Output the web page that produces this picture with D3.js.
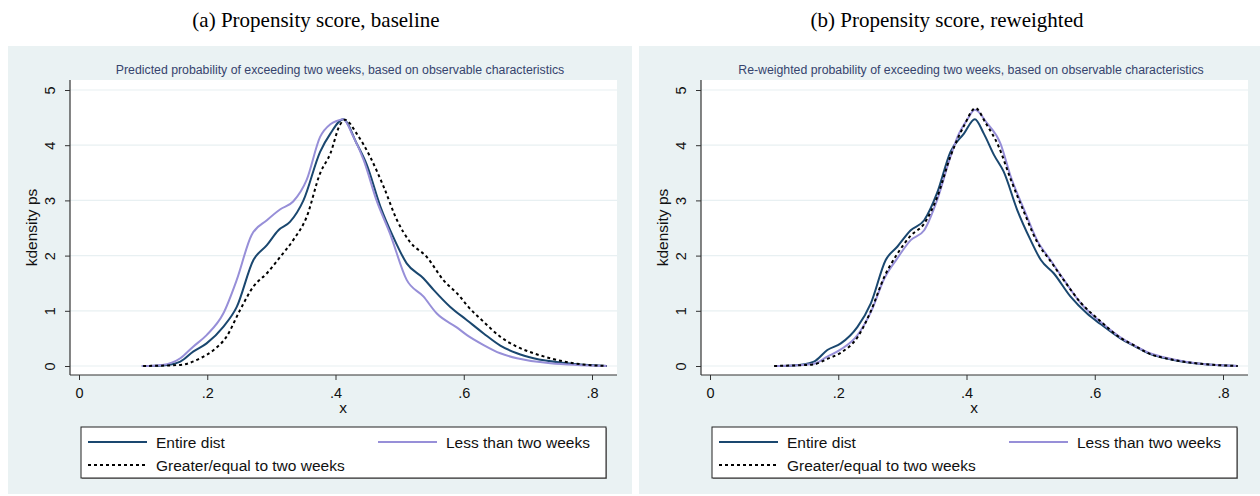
<!DOCTYPE html>
<html>
<head>
<meta charset="utf-8">
<script src="https://cdn.jsdelivr.net/npm/d3@7"></script>
<style>
  body { margin: 0; background: #fff; }
  svg text { font-family: "Liberation Sans", Arial, sans-serif; }
</style>
</head>
<body>
<svg id="chart" width="1260" height="496"></svg>
<script>
// axis ticks
const xTicks = [0, 0.2, 0.4, 0.6, 0.8];
const xTickLabels = ["0", ".2", ".4", ".6", ".8"];
const yTicks = [0, 1, 2, 3, 4, 5];

const seriesNames = ["Entire dist", "Less than two weeks", "Greater/equal to two weeks"];
const panelTitles = ["(a) Propensity score, baseline", "(b) Propensity score, reweighted"];
const panelSubtitles = [
  "Predicted probability of exceeding two weeks, based on observable characteristics",
  "Re-weighted probability of exceeding two weeks, based on observable characteristics"
];

// (a) baseline densities, [x, density]
const baseEntire = [[0.098,0],[0.13,0.01],[0.158,0.08],[0.178,0.26],[0.199,0.41],[0.225,0.71],[0.246,1.07],[0.272,1.92],[0.293,2.19],[0.311,2.46],[0.329,2.61],[0.350,3.00],[0.376,3.88],[0.392,4.21],[0.412,4.47],[0.433,4.03],[0.449,3.64],[0.470,2.89],[0.490,2.34],[0.511,1.86],[0.537,1.59],[0.553,1.38],[0.579,1.07],[0.605,0.83],[0.631,0.59],[0.657,0.37],[0.683,0.23],[0.709,0.14],[0.761,0.05],[0.823,0]];
const baseLess = [[0.098,0],[0.13,0.02],[0.158,0.14],[0.178,0.35],[0.199,0.56],[0.225,0.95],[0.246,1.56],[0.269,2.37],[0.293,2.64],[0.314,2.84],[0.334,2.98],[0.355,3.37],[0.376,4.15],[0.392,4.38],[0.402,4.44],[0.412,4.47],[0.428,4.15],[0.444,3.73],[0.464,3.00],[0.485,2.40],[0.511,1.56],[0.537,1.26],[0.558,0.95],[0.589,0.70],[0.605,0.56],[0.631,0.38],[0.657,0.23],[0.683,0.14],[0.735,0.05],[0.823,0]];
const baseGreater = [[0.10,0],[0.158,0.02],[0.189,0.14],[0.210,0.29],[0.230,0.53],[0.251,1.01],[0.272,1.44],[0.293,1.68],[0.314,1.98],[0.334,2.28],[0.355,2.70],[0.376,3.49],[0.392,3.85],[0.407,4.37],[0.415,4.46],[0.433,4.21],[0.454,3.79],[0.475,3.25],[0.496,2.64],[0.516,2.25],[0.542,1.98],[0.568,1.56],[0.594,1.26],[0.605,1.10],[0.631,0.80],[0.657,0.53],[0.683,0.35],[0.709,0.23],[0.735,0.14],[0.771,0.05],[0.823,0]];

// (b) reweighted densities
const rwEntire = [[0.100,0],[0.13,0.01],[0.162,0.08],[0.183,0.29],[0.204,0.41],[0.230,0.71],[0.251,1.14],[0.274,1.92],[0.292,2.16],[0.313,2.46],[0.334,2.64],[0.354,3.13],[0.375,3.88],[0.396,4.21],[0.413,4.47],[0.427,4.21],[0.443,3.82],[0.458,3.52],[0.479,2.83],[0.500,2.28],[0.516,1.92],[0.536,1.68],[0.562,1.26],[0.588,0.95],[0.609,0.76],[0.640,0.50],[0.662,0.36],[0.682,0.24],[0.723,0.11],[0.765,0.04],[0.823,0]];
const rwLess = [[0.100,0],[0.13,0.01],[0.162,0.04],[0.183,0.17],[0.204,0.30],[0.230,0.56],[0.251,0.98],[0.272,1.59],[0.292,1.95],[0.313,2.28],[0.334,2.46],[0.354,3.00],[0.375,3.79],[0.386,4.15],[0.401,4.46],[0.413,4.64],[0.432,4.40],[0.453,4.03],[0.469,3.43],[0.490,2.83],[0.510,2.28],[0.531,1.92],[0.552,1.56],[0.578,1.14],[0.609,0.80],[0.640,0.52],[0.662,0.37],[0.682,0.25],[0.723,0.12],[0.765,0.04],[0.823,0]];
const rwGreater = [[0.100,0],[0.13,0.01],[0.162,0.03],[0.183,0.13],[0.204,0.24],[0.230,0.52],[0.251,1.00],[0.272,1.62],[0.292,2.03],[0.313,2.36],[0.334,2.58],[0.354,3.05],[0.375,3.80],[0.396,4.35],[0.414,4.67],[0.430,4.40],[0.450,3.98],[0.469,3.38],[0.490,2.78],[0.510,2.25],[0.531,1.90],[0.552,1.55],[0.578,1.15],[0.609,0.81],[0.640,0.51],[0.662,0.37],[0.682,0.24],[0.723,0.11],[0.765,0.04],[0.823,0]];

const styles = [
  { color: "#1a476f", dash: null },
  { color: "#978fd8", dash: null },
  { color: "#000", dash: "3,3" }
];

const svg = d3.select("#chart");

function drawPanel(offset, title, subtitle, series) {
  const g = svg.append("g").attr("transform", `translate(${offset},0)`);

  // panel background and title above it
  g.append("rect").attr("x", 8).attr("y", 46).attr("width", 624).attr("height", 448)
    .attr("fill", "#eaf2f3");
  g.append("text").attr("x", 316).attr("y", 27).attr("text-anchor", "middle")
    .style("font-family", '"Liberation Serif", "Times New Roman", serif')
    .style("font-size", "21px").attr("fill", "#000").text(title);
  g.append("text").attr("x", 340).attr("y", 74).attr("text-anchor", "middle")
    .style("font-size", "12.3px").attr("fill", "#36446e").text(subtitle);

  const left = 70, right = 617, top = 80, bottom = 375;
  g.append("rect").attr("x", left).attr("y", top).attr("width", right - left).attr("height", bottom - top)
    .attr("fill", "#fff");

  const x = d3.scaleLinear().domain([0, 0.8]).range([79, 592]);
  const y = d3.scaleLinear().domain([0, 5]).range([366, 90]);

  // grid
  g.append("g").selectAll("line").data(yTicks).enter().append("line")
    .attr("x1", left).attr("x2", right).attr("y1", d => y(d)).attr("y2", d => y(d))
    .attr("stroke", "#e8f0f2").attr("stroke-width", 1.2);

  // axes
  const yAxis = g.append("g").attr("transform", `translate(${left},0)`)
    .call(d3.axisLeft(y).tickValues(yTicks).tickFormat(d3.format("d")).tickSize(5).tickSizeOuter(0));
  yAxis.select(".domain").remove();
  yAxis.selectAll("line").attr("stroke", "#333");
  yAxis.selectAll("text").attr("x", 0).attr("dy", 0)
    .attr("transform", "translate(-15,0) rotate(-90)").attr("text-anchor", "middle")
    .style("font-size", "14.5px").attr("fill", "#111");

  const xAxis = g.append("g").attr("transform", `translate(0,${bottom})`)
    .call(d3.axisBottom(x).tickValues(xTicks).tickFormat((d, i) => xTickLabels[i])
      .tickSize(5).tickPadding(8).tickSizeOuter(0));
  xAxis.select(".domain").remove();
  xAxis.selectAll("line").attr("stroke", "#333");
  xAxis.selectAll("text").style("font-size", "14.5px").attr("fill", "#111");

  g.append("line").attr("x1", left).attr("x2", left).attr("y1", top).attr("y2", bottom)
    .attr("stroke", "#333").attr("stroke-width", 1.2);
  g.append("line").attr("x1", left).attr("x2", right).attr("y1", bottom).attr("y2", bottom)
    .attr("stroke", "#333").attr("stroke-width", 1.2);

  g.append("text").attr("transform", `translate(37,${(top + bottom) / 2}) rotate(-90)`)
    .attr("text-anchor", "middle").style("font-size", "15.5px").attr("fill", "#111")
    .text("kdensity ps");
  g.append("text").attr("x", 343).attr("y", 413).attr("text-anchor", "middle")
    .style("font-size", "15.5px").attr("fill", "#111").text("x");

  // density curves
  const line = d3.line().x(d => x(d[0])).y(d => y(d[1])).curve(d3.curveMonotoneX);
  series.forEach((s, i) => {
    g.append("path").datum(s).attr("d", line)
      .attr("fill", "none").attr("stroke", styles[i].color).attr("stroke-width", 2)
      .attr("stroke-dasharray", styles[i].dash);
  });

  // legend
  const lg = g.append("g");
  lg.append("rect").attr("x", 82).attr("y", 428).attr("width", 525).attr("height", 51).attr("fill", "#999");
  lg.append("rect").attr("x", 81).attr("y", 427).attr("width", 525).attr("height", 51)
    .attr("fill", "#fff").attr("stroke", "#222").attr("stroke-width", 1);
  const items = [
    { lx: 88, ty: 442 },
    { lx: 378, ty: 442 },
    { lx: 88, ty: 465 }
  ];
  items.forEach((it, i) => {
    lg.append("line").attr("x1", it.lx).attr("x2", it.lx + 59).attr("y1", it.ty).attr("y2", it.ty)
      .attr("stroke", styles[i].color).attr("stroke-width", 2).attr("stroke-dasharray", styles[i].dash);
    lg.append("text").attr("x", it.lx + 68).attr("y", it.ty + 5.5)
      .style("font-size", "15.5px").attr("fill", "#111").text(seriesNames[i]);
  });
}

drawPanel(0, panelTitles[0], panelSubtitles[0], [baseEntire, baseLess, baseGreater]);
drawPanel(631, panelTitles[1], panelSubtitles[1], [rwEntire, rwLess, rwGreater]);
</script>
</body>
</html>
